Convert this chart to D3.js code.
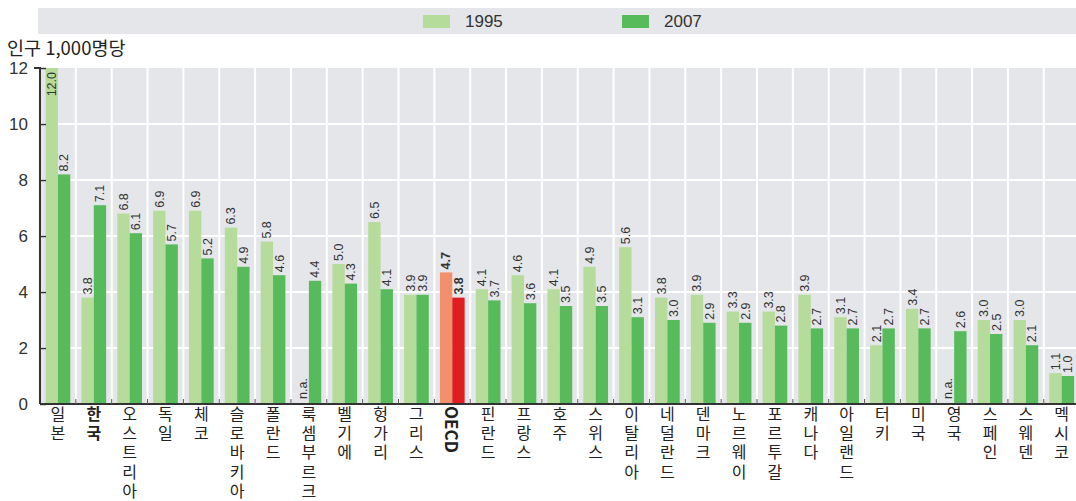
<!DOCTYPE html>
<html><head><meta charset="utf-8">
<script src="https://cdn.jsdelivr.net/npm/d3@7"></script>
<style>body{margin:0;background:#fff}svg{display:block}</style>
</head><body>
<script>
const categories = ["일본","한국","오스트리아","독일","체코","슬로바키아","폴란드","룩셈부르크","벨기에","헝가리","그리스","OECD","핀란드","프랑스","호주","스위스","이탈리아","네덜란드","덴마크","노르웨이","포르투갈","캐나다","아일랜드","터키","미국","영국","스페인","스웨덴","멕시코"];
const series = ["1995","2007"];
const values1995 = [12.0,3.8,6.8,6.9,6.9,6.3,5.8,null,5.0,6.5,3.9,4.7,4.1,4.6,4.1,4.9,5.6,3.8,3.9,3.3,3.3,3.9,3.1,2.1,3.4,null,3.0,3.0,1.1];
const values2007 = [8.2,7.1,6.1,5.7,5.2,4.9,4.6,4.4,4.3,4.1,3.9,3.8,3.7,3.6,3.5,3.5,3.1,3.0,2.9,2.9,2.8,2.7,2.7,2.7,2.7,2.6,2.5,2.1,1.0];
const yTicks = [0,2,4,6,8,10,12];
const yTitle = "인구 1,000명당";
const boldCats = ["한국","OECD"];

const W = 1076, H = 501;
const colors = {"1995":"#b5dc9b","2007":"#57bb5b"};
const oecdColors = {"1995":"#f48f6c","2007":"#e01e22"};
const numFont = "'Liberation Sans Narrow','Liberation Sans',Arial,sans-serif";
const krFont = "'Noto Sans CJK KR','Noto Sans',sans-serif";

const svg = d3.select("body").append("svg").attr("width", W).attr("height", H);

const x = d3.scaleBand().domain(categories).range([40, 40 + 29*35.85]).padding(0);
const x1 = d3.scaleBand().domain(series).range([0, x.bandwidth()]).paddingInner(0).paddingOuter(0.45);
const y = d3.scaleLinear().domain([0,12]).range([404, 68]);

// legend band
svg.append("rect").attr("x",38).attr("y",8).attr("width",W-38).attr("height",26).attr("fill","#e4e6e9");
const legPos = [423, 622];
series.forEach((s,i)=>{
  svg.append("rect").attr("x",legPos[i]).attr("y",15).attr("width",27).attr("height",13).attr("fill",colors[s]);
  svg.append("text").attr("x",legPos[i]+42).attr("y",27).attr("font-family",numFont).attr("font-size",17).attr("fill","#333").text(s);
});

// title
svg.append("text").attr("x",7).attr("y",55).attr("font-family",krFont).attr("font-size",18.5).attr("fill","#222").text(yTitle);

// plot background
svg.append("rect").attr("x",40).attr("y",y(12)).attr("width",W-40).attr("height",y(0)-y(12)).attr("fill","#e4e6e9");

// grid
svg.append("g").selectAll("line").data(yTicks.filter(t=>t>0&&t<12)).join("line")
  .attr("x1",40).attr("x2",W).attr("y1",d=>y(d)).attr("y2",d=>y(d)).attr("stroke","#fff").attr("stroke-width",2);
svg.append("g").selectAll("line").data(categories.slice(1)).join("line")
  .attr("x1",d=>x(d)).attr("x2",d=>x(d)).attr("y1",y(12)).attr("y2",y(0)).attr("stroke","#fff").attr("stroke-width",2);

// bars
const rows = [];
categories.forEach((c,i)=>{
  rows.push({c, s:"1995", v:values1995[i]});
  rows.push({c, s:"2007", v:values2007[i]});
});
const g = svg.append("g");
g.selectAll("rect").data(rows.filter(r=>r.v!=null)).join("rect")
  .attr("x",r=>x(r.c)+x1(r.s)).attr("width",x1.bandwidth())
  .attr("y",r=>y(r.v)).attr("height",r=>y(0)-y(r.v))
  .attr("fill",r=>r.c==="OECD"?oecdColors[r.s]:colors[r.s]);

// value labels
g.selectAll("text").data(rows).join("text")
  .attr("transform",r=>{
    const cx = x(r.c)+x1(r.s)+x1.bandwidth()/2;
    let yy;
    if (r.v==null) yy = y(0)-5;
    else if (r.v>=11) yy = y(r.v)+4;
    else yy = y(r.v)-3;
    return `translate(${cx},${yy}) rotate(-90)`;
  })
  .attr("text-anchor",r=>(r.v!=null&&r.v>=11)?"end":"start")
  .attr("dy","0.35em")
  .attr("font-family",numFont).attr("font-size",12.5)
  .attr("font-weight",r=>r.c==="OECD"?"bold":"normal")
  .attr("fill","#333")
  .text(r=>r.v==null?"n.a.":r.v.toFixed(1));

// axes
const yAxis = d3.axisLeft(y).tickValues(yTicks).tickSize(-6).tickPadding(12).tickFormat(d3.format("d"));
const ya = svg.append("g").attr("transform","translate(40,0)").call(yAxis);
ya.select(".domain").attr("stroke","#333").attr("stroke-width",2).attr("d",`M-6,${y(12)}H0V${y(0)}`);
ya.selectAll(".tick line").attr("stroke","#333").attr("stroke-width",1.5);
ya.selectAll(".tick text").attr("font-family",numFont).attr("font-size",17).attr("fill","#333").attr("text-anchor","end").attr("x",-12);

const xa = svg.append("g").attr("transform",`translate(0,${y(0)})`);
xa.append("line").attr("x1",40).attr("x2",W).attr("y1",0).attr("y2",0).attr("stroke","#333").attr("stroke-width",2);
xa.selectAll("line.tk").data(categories.slice(1)).join("line").attr("class","tk")
  .attr("x1",d=>x(d)).attr("x2",d=>x(d)).attr("y1",0).attr("y2",-5).attr("stroke","#555").attr("stroke-width",1);

// category labels (vertical writing)
svg.append("g").selectAll("text").data(categories).join("text")
  .attr("x",c=>x(c)+x.bandwidth()/2)
  .attr("y",406)
  .attr("style",c=>/^[A-Za-z]+$/.test(c)
      ? "writing-mode:vertical-rl;text-orientation:mixed;"
      : "writing-mode:vertical-rl;text-orientation:upright;letter-spacing:3.2px;")
  .attr("font-family",krFont)
  .attr("font-size",c=>/^[A-Za-z]+$/.test(c)?17:16)
  .attr("font-weight",c=>boldCats.includes(c)?"bold":"normal")
  .attr("fill","#222")
  .text(c=>c);
</script>
</body></html>
